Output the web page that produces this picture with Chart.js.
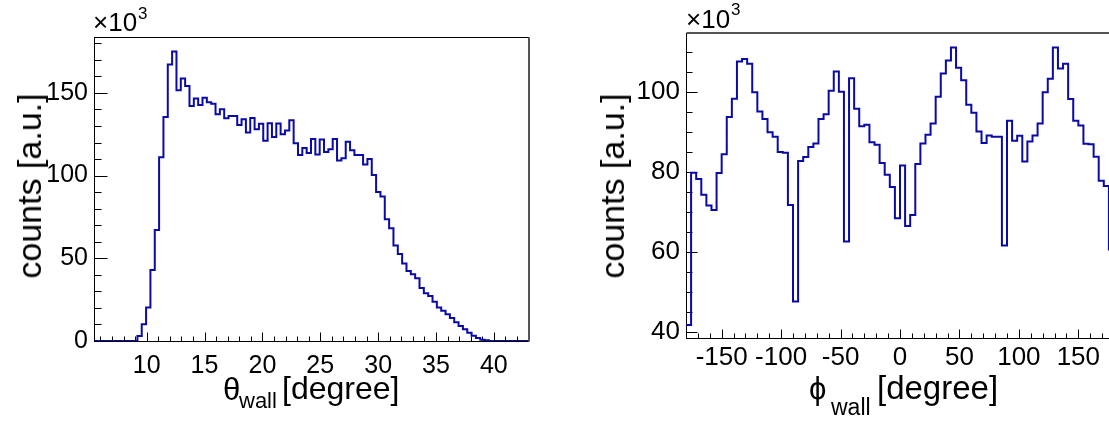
<!DOCTYPE html>
<html>
<head>
<meta charset="utf-8">
<script src="https://cdn.jsdelivr.net/npm/chart.js@4.4.1/dist/chart.umd.min.js"></script>
<style>
  html, body { margin: 0; padding: 0; background: #fff; }
  body { width: 1109px; height: 421px; overflow: hidden; position: relative;
         font-family: "Liberation Sans", Arial, sans-serif; color: #000; }
  canvas { position: absolute; top: 0; }
  #thetaChart { left: 0; }
  #phiChart { left: 560px; }
  .t { position: absolute; white-space: nowrap; line-height: 1; }
  .rot { transform: translate(-50%, -50%) rotate(-90deg); }
</style>
</head>
<body>
<canvas id="thetaChart" width="560" height="421"></canvas>
<canvas id="phiChart" width="600" height="421"></canvas>

<!-- left panel texts -->
<div class="t" style="left:93px; top:9px; font-size:26px;">×10</div>
<div class="t" style="left:138px; top:5px; font-size:17px;">3</div>
<div class="t rot" style="left:29px; top:186px; font-size:34px;">counts [a.u.]</div>
<div class="t" style="left:223px; top:374px; font-size:31px;">θ</div>
<div class="t" style="left:239px; top:390px; font-size:22px;">wall</div>
<div class="t" style="left:282px; top:372px; font-size:32px;">[degree]</div>

<!-- right panel texts -->
<div class="t" style="left:686px; top:6px; font-size:26px;">×10</div>
<div class="t" style="left:731px; top:1px; font-size:17px;">3</div>
<div class="t rot" style="left:612px; top:186px; font-size:34px;">counts [a.u.]</div>
<div class="t" style="left:809px; top:373px; font-size:31px;">ϕ</div>
<div class="t" style="left:831px; top:396px; font-size:23px;">wall</div>
<div class="t" style="left:877px; top:371px; font-size:33px;">[degree]</div>

<script>
// theta_wall histogram, counts in units of 10^3
const thetaMin = 5.45;
const thetaMax = 42.95;
const thetaCounts = [
  0, 0, 0, 0, 0, 0, 0, 0, 0, 0,
  3.0, 10.1, 20.2, 42.9, 67.1, 111.1, 135.5, 167.1, 175, 151.6,
  158.7, 154.2, 142.1, 146.6, 142.7, 147, 144.4, 143.5, 137.1, 140.1,
  134.7, 136.1, 136.1, 130.6, 134.1, 126, 134.9, 128, 131.3, 121,
  131.7, 123.4, 131.5, 125, 127.2, 133.5, 119.6, 112.5, 116.7, 113.7,
  122.2, 112.7, 121.8, 114.3, 115.9, 122.2, 109.1, 110.5, 120.4, 115.3,
  112.5, 112.5, 106.7, 110.1, 100.4, 90.1, 87.3, 73.6, 68.1, 57.7,
  52.6, 46.8, 42.3, 40.3, 37.9, 32.1, 28.8, 27.2, 23.8, 20.2,
  18.3, 16.1, 13.9, 11.3, 9.1, 7.1, 5.0, 3.2, 1.8, 0.8,
  0.4, 0, 0, 0, 0, 0, 0, 0, 0, 0
];
const thetaXTicks = [10, 15, 20, 25, 30, 35, 40];
const thetaYTicks = [0, 50, 100, 150];

// phi_wall histogram, counts in units of 10^3
const phiMin = -180;
const phiMax = 180;
const phiCounts = [
  41.75, 79.8, 78.2, 74.3, 71.6, 70.5, 79.7, 84.4, 93.7, 98.25,
  107.6, 108.2, 107, 99.9, 95.1, 93.2, 89.9, 88.8, 85, 84.8,
  71.75, 47.6, 82.75, 83.7, 86.2, 87.1, 93.2, 94.4, 100.25, 105.1,
  100, 62.6, 103.4, 95.8, 91.4, 91.8, 87.4, 86.75, 82.2, 79.3,
  76.2, 68.4, 81.6, 66.5, 69.25, 82, 87.1, 89.25, 92.1, 98.75,
  104.6, 107.8, 111.1, 106, 102.9, 96.75, 94.8, 90.1, 87.2, 89.1,
  88.8, 88.75, 61.6, 92.8, 87.8, 89, 82.6, 87.6, 89.1, 92.1,
  99.9, 103.3, 111.1, 105.8, 107, 98.2, 92.8, 91.6, 87, 86.9,
  83.8, 77.8, 76.5, 60.6
];
const phiXTicks = [-150, -100, -50, 0, 50, 100, 150];
const phiYTicks = [40, 60, 80, 100];

const lineColor = '#0a0aa8';
const fontFamily = '"Liberation Sans", Arial, sans-serif';

// bin edges -> step outline points
function histPoints(lo, hi, counts) {
    const w = (hi - lo) / counts.length;
    const pts = counts.map((c, i) => ({ x: lo + i * w, y: c }));
    pts.push({ x: hi, y: counts[counts.length - 1] });
    return pts;
}

// ROOT style frame with inward ticks
const rootFrame = {
    id: 'rootFrame',
    beforeDatasetsDraw(chart, args, o) {
        const { ctx, chartArea: a } = chart;
        const xs = chart.scales.x, ys = chart.scales.y;
        const L = Math.round(a.left) + 0.5, R = Math.round(a.right) + 0.5;
        const T = Math.round(a.top) + 0.5, B = Math.round(a.bottom) + 0.5;
        ctx.save();
        ctx.strokeStyle = '#000';
        ctx.lineWidth = 1;
        ctx.strokeRect(L, T, R - L, B - T);
        // darker shadowed edge like the original frame
        ctx.strokeStyle = '#555';
        ctx.lineWidth = 2;
        ctx.beginPath();
        if (o.thick === 'right') { ctx.moveTo(R + 0.5, T); ctx.lineTo(R + 0.5, B); }
        if (o.thick === 'top') { ctx.moveTo(L, T - 0.5); ctx.lineTo(R, T - 0.5); }
        ctx.stroke();
        ctx.strokeStyle = '#000';
        ctx.lineWidth = 1;
        ctx.beginPath();
        const i0 = Math.ceil(xs.min / o.xMinor - 1e-9), i1 = Math.floor(xs.max / o.xMinor + 1e-9);
        for (let i = i0; i <= i1; i++) {
            const v = i * o.xMinor;
            const major = Math.abs(v / o.xMajor - Math.round(v / o.xMajor)) < 1e-6;
            const px = Math.round(xs.getPixelForValue(v)) + 0.5;
            ctx.moveTo(px, B);
            ctx.lineTo(px, B - (major ? o.xMajorLen : o.xMinorLen));
        }
        const j0 = Math.ceil(ys.min / o.yMinor - 1e-9), j1 = Math.floor(ys.max / o.yMinor + 1e-9);
        for (let j = j0; j <= j1; j++) {
            const v = j * o.yMinor;
            const major = Math.abs(v / o.yMajor - Math.round(v / o.yMajor)) < 1e-6;
            const py = Math.round(ys.getPixelForValue(v)) + 0.5;
            ctx.moveTo(L, py);
            ctx.lineTo(L + (major ? o.yMajorLen : o.yMinorLen), py);
        }
        ctx.stroke();
        ctx.restore();
    }
};

function makeHist(id, cfg) {
    return new Chart(document.getElementById(id), {
        type: 'line',
        data: {
            datasets: [{
                data: histPoints(cfg.lo, cfg.hi, cfg.counts),
                stepped: 'before',
                borderColor: lineColor,
                borderWidth: 2,
                pointRadius: 0,
                fill: false
            }]
        },
        plugins: [rootFrame],
        options: {
            responsive: false,
            animation: false,
            events: [],
            layout: { padding: { left: 0, top: cfg.top, right: cfg.right, bottom: 0 } },
            plugins: {
                legend: { display: false },
                tooltip: { enabled: false },
                rootFrame: cfg.frame
            },
            scales: {
                x: {
                    type: 'linear',
                    min: cfg.lo,
                    max: cfg.hi,
                    afterBuildTicks: s => { s.ticks = cfg.xTicks.map(v => ({ value: v })); },
                    afterFit: s => { s.height = cfg.xHeight; },
                    grid: { display: false, drawTicks: false },
                    border: { display: false },
                    ticks: {
                        color: '#000',
                        font: { family: fontFamily, size: cfg.fontSize },
                        padding: cfg.xPad,
                        maxRotation: 0,
                        autoSkip: false,
                        callback: v => String(v)
                    }
                },
                y: {
                    type: 'linear',
                    min: cfg.yMin,
                    max: cfg.yMax,
                    afterBuildTicks: s => { s.ticks = cfg.yTicks.map(v => ({ value: v })); },
                    afterFit: s => { s.width = cfg.yWidth; },
                    grid: { display: false, drawTicks: false },
                    border: { display: false },
                    ticks: {
                        color: '#000',
                        font: { family: fontFamily, size: cfg.fontSize },
                        padding: cfg.yPad,
                        callback: v => String(v)
                    }
                }
            }
        }
    });
}

makeHist('thetaChart', {
    lo: thetaMin, hi: thetaMax, counts: thetaCounts,
    xTicks: thetaXTicks, yTicks: thetaYTicks,
    yMin: 0, yMax: 183.8,
    top: 37, right: 32, xHeight: 80, yWidth: 94,
    fontSize: 25, xPad: 10, yPad: 6,
    frame: { xMajor: 5, xMinor: 1, xMajorLen: 9, xMinorLen: 5,
             yMajor: 50, yMinor: 10, yMajorLen: 13, yMinorLen: 7, thick: 'right' }
});

makeHist('phiChart', {
    lo: phiMin, hi: phiMax, counts: phiCounts,
    xTicks: phiXTicks, yTicks: phiYTicks,
    yMin: 38.5, yMax: 114.7,
    top: 33, right: 46, xHeight: 83, yWidth: 126,
    fontSize: 26, xPad: 4, yPad: 6,
    frame: { xMajor: 50, xMinor: 10, xMajorLen: 9, xMinorLen: 5,
             yMajor: 20, yMinor: 5, yMajorLen: 11, yMinorLen: 6, thick: 'top' }
});
</script>
</body>
</html>
